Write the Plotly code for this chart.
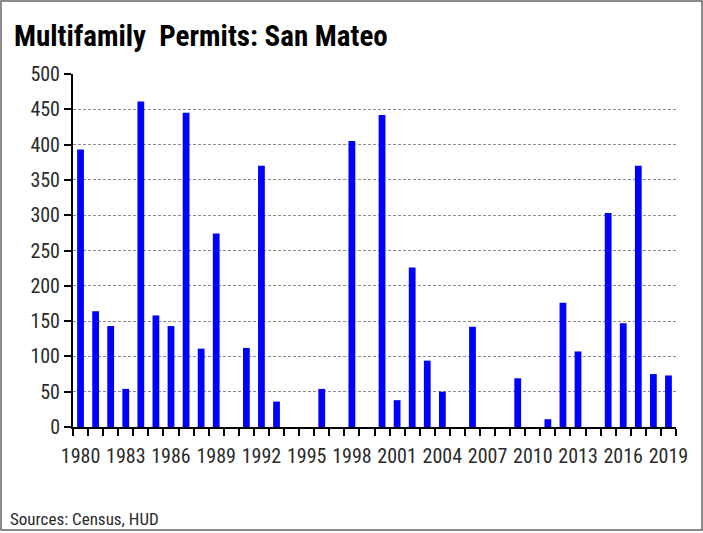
import plotly.graph_objects as go

years = list(range(1980, 2020))
permits = [393, 164, 143, 54, 461, 158, 143, 445, 111, 274,
           0, 112, 370, 36, 0, 0, 54, 0, 405, 0,
           442, 38, 226, 94, 50, 0, 142, 0, 0, 69,
           0, 11, 176, 107, 0, 303, 147, 370, 75, 73]
label_years = list(range(1980, 2020, 3))
y_ticks = list(range(0, 501, 50))

W, H = 703, 533
L, R, T, B = 73, 27, 74, 106
pw, ph = W - L - R, H - T - B

FONT = "Liberation Sans Narrow, Arial Narrow, Roboto Condensed, Liberation Sans, sans-serif"

fig = go.Figure(go.Bar(x=years, y=permits, marker=dict(color="#0000FF", line=dict(width=0)),
                       width=0.45))

fig.update_layout(
    width=W, height=H,
    margin=dict(l=L, r=R, t=T, b=B),
    paper_bgcolor="white", plot_bgcolor="white",
    showlegend=False,
    font=dict(family=FONT, size=20, color="#222"),
)
fig.update_xaxes(
    range=[1979.5, 2019.5],
    tickmode="array", tickvals=label_years, ticktext=[str(y) for y in label_years],
    ticks="", showgrid=False,
    showline=True, linecolor="black", linewidth=2,
    tickfont=dict(size=20, family=FONT, color="#2a2a2a"),
    ticklabelstandoff=10,
    minor=dict(ticks="outside", tick0=1979.5, dtick=1, ticklen=7, tickcolor="black", tickwidth=1.5, showgrid=False),
    zeroline=False,
)
fig.update_yaxes(
    range=[0, 500], tickmode="array", tickvals=y_ticks,
    ticks="outside", ticklen=7, tickcolor="black", tickwidth=1.5,
    showline=True, linecolor="black", linewidth=2,
    showgrid=True, gridcolor="#8a8a8a", griddash="3px,2px", gridwidth=1,
    zeroline=False,
    tickfont=dict(size=20, family=FONT, color="#2a2a2a"),
)

def px_x(p):
    return (p - L) / pw

def px_y(p):
    return 1 - (p - T) / ph

fig.add_shape(type="rect", xref="paper", yref="paper",
              x0=px_x(1), x1=px_x(702), y0=px_y(530), y1=px_y(1),
              line=dict(color="#666", width=1.5), fillcolor="rgba(0,0,0,0)", layer="above")

fig.add_annotation(text="<b>Multifamily  Permits: San Mateo</b>", xref="paper", yref="paper",
                   x=px_x(12), y=px_y(36), xanchor="left", yanchor="middle", showarrow=False,
                   font=dict(family=FONT, size=29, color="black"))
fig.add_annotation(text="Sources: Census, HUD", xref="paper", yref="paper",
                   x=px_x(8), y=px_y(519), xanchor="left", yanchor="middle", showarrow=False,
                   font=dict(family=FONT, size=17, color="#2a2a2a"))

fig.write_html("out.html", config={"displayModeBar": False},
               post_script="document.body.style.margin='0';document.body.style.overflow='hidden';")
